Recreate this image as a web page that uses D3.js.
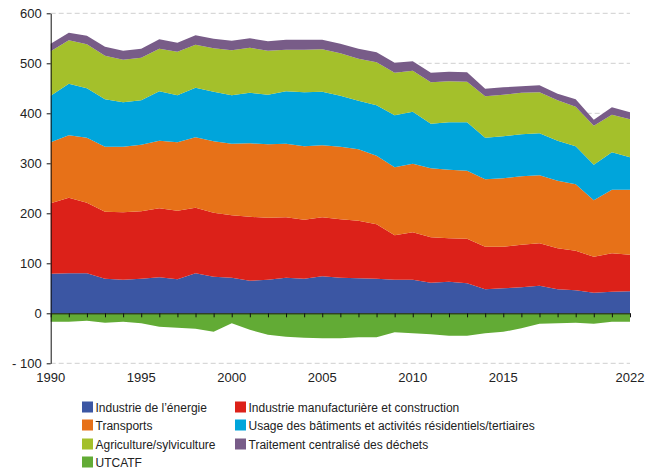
<!DOCTYPE html>
<html lang="fr">
<head>
<meta charset="UTF-8">
<title>Emissions</title>
<style>
  body { margin: 0; background: #fff; }
  svg text { font-family: Helvetica, Arial, 'Liberation Sans', sans-serif; fill: #222; }
</style>
</head>
<body>
<script src="https://d3js.org/d3.v7.min.js"></script>
<script>
// data (Mt CO2e)
const years = [1990, 1991, 1992, 1993, 1994, 1995, 1996, 1997, 1998, 1999, 2000, 2001, 2002, 2003, 2004, 2005, 2006,
  2007, 2008, 2009, 2010, 2011, 2012, 2013, 2014, 2015, 2016, 2017, 2018, 2019, 2020, 2021, 2022];
const energie = [79, 80, 80, 69, 67, 69, 72, 68, 80, 73, 71, 65, 67, 71, 69, 74, 71, 70, 69, 67, 67, 61, 63, 60, 48, 50, 52, 55, 48, 46, 41, 43, 44];
const manuf = [141, 151, 141, 134, 135, 135, 138, 137, 131, 128, 125, 128, 124, 121, 118, 118, 117, 115, 109, 89, 95, 91, 87, 89, 85, 83, 85, 85, 82, 79, 72, 77, 73];
const transports = [122, 125, 130, 130, 131, 133, 135, 137, 141, 143, 143, 147, 147, 147, 147, 144, 145, 143, 137, 136, 137, 138, 137, 136, 135, 137, 137, 136, 135, 133, 113, 127, 130];
const batiments = [93, 103, 99, 95, 89, 89, 99, 94, 99, 99, 97, 101, 99, 105, 108, 107, 102, 97, 101, 104, 104, 89, 95, 97, 83, 84, 84, 84, 80, 76, 71, 75, 65];
const agri = [89, 87, 88, 87, 85, 85, 85, 87, 86, 87, 90, 90, 88, 83, 85, 85, 85, 84, 86, 85, 82, 83, 82, 81, 83, 83, 83, 82, 81, 79, 78, 75, 76];
const dechets = [15, 15, 17, 18, 18, 18, 19, 18, 19, 19, 19, 19, 19, 20, 20, 19, 19, 20, 20, 20, 19, 19, 19, 19, 15, 15, 13, 14, 13, 15, 12, 15, 14];
const utcatf = [-17, -17, -15, -19, -17, -20, -27, -29, -31, -37, -20, -33, -43, -47, -49, -50, -50, -48, -48, -38, -40, -42, -45, -45, -40, -37, -30, -21, -20, -19, -21, -17, -17];

const seriesNames = ["Industrie de l’énergie", "Industrie manufacturière et construction", "Transports",
  "Usage des bâtiments et activités résidentiels/tertiaires", "Agriculture/sylviculture",
  "Traitement centralisé des déchets", "UTCATF"];
const seriesValues = [energie, manuf, transports, batiments, agri, dechets, utcatf];
const colors = ["#3b56a3", "#dc2119", "#e77118", "#00a5db", "#a4c02b", "#785c88", "#62ab35"];

const yTicks = [-100, 0, 100, 200, 300, 400, 500, 600];
const xLabelYears = [1990, 1995, 2000, 2005, 2010, 2015, 2022];

// table for d3.stack
const table = years.map((yr, i) => {
  const row = { year: yr };
  seriesNames.forEach((n, k) => { row[n] = seriesValues[k][i]; });
  return row;
});

const svg = d3.select('body').append('svg').attr('width', 647).attr('height', 468);

const x = d3.scaleLinear().domain([1990, 2022]).range([50.7, 630]);
const y = d3.scaleLinear().domain([-100, 600]).range([363.3, 13.3]);

// dashed grid
svg.append('g').selectAll('line')
  .data(yTicks.filter(d => d !== 0))
  .enter().append('line')
  .attr('x1', x(1990)).attr('x2', x(2022))
  .attr('y1', d => y(d)).attr('y2', d => y(d))
  .style('stroke', '#cfcfcf')
  .style('stroke-width', 1)
  .style('stroke-dasharray', '5,3');

const stacked = d3.stack()
  .keys(seriesNames)
  .offset(d3.stackOffsetDiverging)(table);

const area = d3.area()
  .x(d => x(d.data.year))
  .y0(d => y(d[0]))
  .y1(d => y(d[1]));

svg.append('g').selectAll('path')
  .data(stacked)
  .enter().append('path')
  .attr('d', area)
  .style('fill', (d, i) => colors[i]);

// zero line with year ticks
const xTicks = svg.append('g')
  .attr('transform', `translate(0,${y(0)})`)
  .call(d3.axisBottom(x).tickValues(years).tickSize(4).tickSizeOuter(0).tickFormat(''));
xTicks.select('.domain').style('stroke', '#111');
xTicks.selectAll('.tick line').style('stroke', '#111');

// year labels
svg.append('g').selectAll('text')
  .data(xLabelYears)
  .enter().append('text')
  .attr('x', d => x(d))
  .attr('y', 382)
  .attr('text-anchor', 'middle')
  .style('font-size', '13px')
  .text(d => d);

// y axis
const yAxis = svg.append('g')
  .attr('transform', `translate(${x(1990)},0)`)
  .call(d3.axisLeft(y).tickValues(yTicks).tickSize(4).tickSizeOuter(0)
    .tickFormat(d => d < 0 ? '- ' + Math.abs(d) : d));
yAxis.select('.domain').style('stroke', '#111');
yAxis.selectAll('.tick line').style('stroke', '#111');
yAxis.selectAll('.tick text')
  .attr('x', -9)
  .style('font-size', '13px')
  .style('font-family', "Helvetica, Arial, 'Liberation Sans', sans-serif")
  .style('fill', '#222');

// legend, two columns
const legendPos = [[82, 407], [235, 407], [82, 425], [235, 425], [82, 444], [235, 444], [82, 462]];
const legend = svg.append('g').selectAll('g')
  .data(seriesNames)
  .enter().append('g')
  .attr('transform', (d, i) => `translate(${legendPos[i][0]},${legendPos[i][1]})`);

legend.append('rect')
  .attr('x', 0).attr('y', -5.5)
  .attr('width', 11).attr('height', 11)
  .style('fill', (d, i) => colors[i]);

legend.append('text')
  .attr('x', 13.5).attr('y', 4.5)
  .style('font-size', '12px')
  .text(d => d);
</script>
</body>
</html>
